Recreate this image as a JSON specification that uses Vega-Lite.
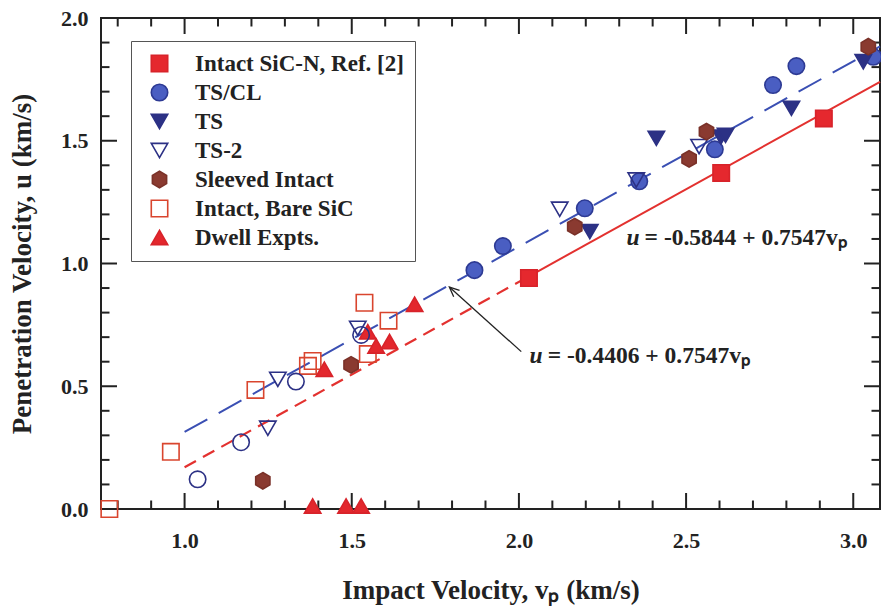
{
  "$schema": "https://vega.github.io/schema/vega-lite/v6.json",
  "width": 779,
  "height": 491,
  "autosize": {"type": "none"},
  "padding": {"left": 101, "top": 18, "right": 1, "bottom": 100},
  "background": "white",
  "datasets": {
    "pts": [
      {"series": "Intact SiC-N, Ref. [2]", "v": 2.03, "u": 0.941},
      {"series": "Intact SiC-N, Ref. [2]", "v": 2.605, "u": 1.369},
      {"series": "Intact SiC-N, Ref. [2]", "v": 2.912, "u": 1.591},
      {"series": "TS/CL", "v": 1.867, "u": 0.973},
      {"series": "TS/CL", "v": 1.952, "u": 1.071},
      {"series": "TS/CL", "v": 2.197, "u": 1.225},
      {"series": "TS/CL", "v": 2.36, "u": 1.335},
      {"series": "TS/CL", "v": 2.586, "u": 1.465},
      {"series": "TS/CL", "v": 2.76, "u": 1.727},
      {"series": "TS/CL", "v": 2.83, "u": 1.804},
      {"series": "TS/CL", "v": 3.06, "u": 1.842},
      {"series": "TS", "v": 2.212, "u": 1.13},
      {"series": "TS", "v": 2.411, "u": 1.51},
      {"series": "TS", "v": 2.604, "u": 1.515},
      {"series": "TS", "v": 2.618, "u": 1.522},
      {"series": "TS", "v": 2.815, "u": 1.632},
      {"series": "TS", "v": 3.03, "u": 1.822},
      {"series": "TS-2", "v": 1.249, "u": 0.329},
      {"series": "TS-2", "v": 1.279, "u": 0.528},
      {"series": "TS-2", "v": 1.518, "u": 0.736},
      {"series": "TS-2", "v": 2.122, "u": 1.221},
      {"series": "TS-2", "v": 2.351, "u": 1.34},
      {"series": "TS-2", "v": 2.539, "u": 1.476},
      {"series": "Sleeved Intact", "v": 1.234, "u": 0.115},
      {"series": "Sleeved Intact", "v": 1.498, "u": 0.587},
      {"series": "Sleeved Intact", "v": 2.167, "u": 1.15},
      {"series": "Sleeved Intact", "v": 2.509, "u": 1.426},
      {"series": "Sleeved Intact", "v": 2.561, "u": 1.537},
      {"series": "Sleeved Intact", "v": 3.045, "u": 1.883},
      {"series": "Intact, Bare SiC", "v": 0.775, "u": 0.0},
      {"series": "Intact, Bare SiC", "v": 0.959, "u": 0.233},
      {"series": "Intact, Bare SiC", "v": 1.212, "u": 0.485},
      {"series": "Intact, Bare SiC", "v": 1.369, "u": 0.583},
      {"series": "Intact, Bare SiC", "v": 1.383, "u": 0.603},
      {"series": "Intact, Bare SiC", "v": 1.538, "u": 0.84},
      {"series": "Intact, Bare SiC", "v": 1.548, "u": 0.631},
      {"series": "Intact, Bare SiC", "v": 1.61, "u": 0.767},
      {"series": "Dwell Expts.", "v": 1.383, "u": 0.012},
      {"series": "Dwell Expts.", "v": 1.483, "u": 0.012},
      {"series": "Dwell Expts.", "v": 1.528, "u": 0.012},
      {"series": "Dwell Expts.", "v": 1.418, "u": 0.569},
      {"series": "Dwell Expts.", "v": 1.548, "u": 0.722},
      {"series": "Dwell Expts.", "v": 1.573, "u": 0.664},
      {"series": "Dwell Expts.", "v": 1.613, "u": 0.682},
      {"series": "Dwell Expts.", "v": 1.688, "u": 0.834},
      {"series": "TS/CL open", "v": 1.039, "u": 0.121},
      {"series": "TS/CL open", "v": 1.169, "u": 0.272},
      {"series": "TS/CL open", "v": 1.333, "u": 0.519},
      {"series": "TS/CL open", "v": 1.528, "u": 0.709}
    ],
    "fits": [
      {"part": "blue", "x1": 1.0, "y1": 0.314, "x2": 3.08, "y2": 1.884},
      {"part": "reddash", "x1": 1.0, "y1": 0.170, "x2": 2.03, "y2": 0.948},
      {"part": "redsolid", "x1": 2.03, "y1": 0.948, "x2": 3.08, "y2": 1.740}
    ],
    "arrow": [{"x1": 2.007, "y1": 0.641, "x2": 1.792, "y2": 0.904}],
    "eqs": [
      {"x": 2.37, "y": 1.075, "eq": "= -0.5844 + 0.7547vₚ"},
      {"x": 2.08, "y": 0.595, "eq": "= -0.4406 + 0.7547vₚ"}
    ],
    "xt": [
      {"t": 0.8, "k": "minor"}, {"t": 0.9, "k": "minor"}, {"t": 1.0, "k": "major"}, {"t": 1.1, "k": "minor"},
      {"t": 1.2, "k": "minor"}, {"t": 1.3, "k": "minor"}, {"t": 1.4, "k": "minor"}, {"t": 1.5, "k": "major"},
      {"t": 1.6, "k": "minor"}, {"t": 1.7, "k": "minor"}, {"t": 1.8, "k": "minor"}, {"t": 1.9, "k": "minor"},
      {"t": 2.0, "k": "major"}, {"t": 2.1, "k": "minor"}, {"t": 2.2, "k": "minor"}, {"t": 2.3, "k": "minor"},
      {"t": 2.4, "k": "minor"}, {"t": 2.5, "k": "major"}, {"t": 2.6, "k": "minor"}, {"t": 2.7, "k": "minor"},
      {"t": 2.8, "k": "minor"}, {"t": 2.9, "k": "minor"}, {"t": 3.0, "k": "major"}
    ],
    "yt": [
      {"t": 0.0, "k": "major"}, {"t": 0.1, "k": "minor"}, {"t": 0.2, "k": "minor"}, {"t": 0.3, "k": "minor"},
      {"t": 0.4, "k": "minor"}, {"t": 0.5, "k": "major"}, {"t": 0.6, "k": "minor"}, {"t": 0.7, "k": "minor"},
      {"t": 0.8, "k": "minor"}, {"t": 0.9, "k": "minor"}, {"t": 1.0, "k": "major"}, {"t": 1.1, "k": "minor"},
      {"t": 1.2, "k": "minor"}, {"t": 1.3, "k": "minor"}, {"t": 1.4, "k": "minor"}, {"t": 1.5, "k": "major"},
      {"t": 1.6, "k": "minor"}, {"t": 1.7, "k": "minor"}, {"t": 1.8, "k": "minor"}, {"t": 1.9, "k": "minor"},
      {"t": 2.0, "k": "major"}
    ]
  },
  "layer": [
    {
      "data": {"name": "xt"},
      "mark": {"type": "tick", "orient": "vertical", "thickness": 2, "color": "#222", "opacity": 1, "clip": true},
      "encoding": {
        "x": {"field": "t", "type": "quantitative", "scale": {"domain": [0.75, 3.08], "nice": false, "zero": false},
          "axis": {"orient": "bottom", "values": [1.0, 1.5, 2.0, 2.5, 3.0], "format": ".1f", "ticks": false, "domain": false, "grid": false,
            "labelOverlap": false, "labelFlush": false, "labelPadding": 21,
            "title": "Impact Velocity, vₚ (km/s)", "titlePadding": 26}},
        "y": {"datum": 0, "type": "quantitative", "scale": {"domain": [0, 2], "nice": false, "zero": false},
          "axis": {"orient": "left", "values": [0, 0.5, 1.0, 1.5, 2.0], "format": ".1f", "ticks": false, "domain": false, "grid": false,
            "labelOverlap": false, "labelFlush": false, "labelPadding": 13,
            "title": "Penetration Velocity, u (km/s)", "titlePadding": 24}},
        "size": {"field": "k", "type": "nominal", "scale": {"domain": ["major", "minor"], "range": [32, 17]}, "legend": null}
      }
    },
    {
      "data": {"name": "xt"},
      "mark": {"type": "tick", "orient": "vertical", "thickness": 2, "color": "#222", "opacity": 1, "clip": true},
      "encoding": {
        "x": {"field": "t", "type": "quantitative"},
        "y": {"datum": 2, "type": "quantitative"},
        "size": {"field": "k", "type": "nominal", "legend": null}
      }
    },
    {
      "data": {"name": "yt"},
      "mark": {"type": "tick", "orient": "horizontal", "thickness": 2, "color": "#222", "opacity": 1, "clip": true},
      "encoding": {
        "y": {"field": "t", "type": "quantitative"},
        "x": {"datum": 0.75, "type": "quantitative"},
        "size": {"field": "k", "type": "nominal", "legend": null}
      }
    },
    {
      "data": {"name": "yt"},
      "mark": {"type": "tick", "orient": "horizontal", "thickness": 2, "color": "#222", "opacity": 1, "clip": true},
      "encoding": {
        "y": {"field": "t", "type": "quantitative"},
        "x": {"datum": 3.08, "type": "quantitative"},
        "size": {"field": "k", "type": "nominal", "legend": null}
      }
    },
    {
      "data": {"name": "fits"},
      "transform": [{"filter": "datum.part == 'blue'"}],
      "mark": {"type": "rule", "color": "#3a4fb3", "strokeWidth": 2, "strokeDash": [26, 13]},
      "encoding": {
        "x": {"field": "x1", "type": "quantitative"},
        "y": {"field": "y1", "type": "quantitative"},
        "x2": {"field": "x2"},
        "y2": {"field": "y2"}
      }
    },
    {
      "data": {"name": "fits"},
      "transform": [{"filter": "datum.part == 'reddash'"}],
      "mark": {"type": "rule", "color": "#e3312f", "strokeWidth": 2.2, "strokeDash": [13, 8]},
      "encoding": {
        "x": {"field": "x1", "type": "quantitative"},
        "y": {"field": "y1", "type": "quantitative"},
        "x2": {"field": "x2"},
        "y2": {"field": "y2"}
      }
    },
    {
      "data": {"name": "fits"},
      "transform": [{"filter": "datum.part == 'redsolid'"}],
      "mark": {"type": "rule", "color": "#e3312f", "strokeWidth": 2},
      "encoding": {
        "x": {"field": "x1", "type": "quantitative"},
        "y": {"field": "y1", "type": "quantitative"},
        "x2": {"field": "x2"},
        "y2": {"field": "y2"}
      }
    },
    {
      "data": {"name": "arrow"},
      "mark": {"type": "rule", "color": "#222", "strokeWidth": 1.3},
      "encoding": {
        "x": {"field": "x1", "type": "quantitative"},
        "y": {"field": "y1", "type": "quantitative"},
        "x2": {"field": "x2"},
        "y2": {"field": "y2"}
      }
    },
    {
      "data": {"name": "arrow"},
      "mark": {"type": "point", "shape": "M-0.45,1L0,0L0.45,1", "filled": false, "stroke": "#222", "strokeWidth": 1.3, "opacity": 1, "size": 380, "angle": 312},
      "encoding": {
        "x": {"field": "x2", "type": "quantitative"},
        "y": {"field": "y2", "type": "quantitative"}
      }
    },
    {
      "data": {"name": "eqs"},
      "mark": {"type": "text", "align": "left", "baseline": "alphabetic", "font": "Liberation Serif", "fontWeight": "bold", "fontSize": 23.5, "color": "#222", "dx": 2},
      "encoding": {
        "x": {"field": "x", "type": "quantitative"},
        "y": {"field": "y", "type": "quantitative"},
        "text": {"field": "eq"}
      }
    },
    {
      "data": {"name": "eqs"},
      "mark": {"type": "text", "align": "right", "baseline": "alphabetic", "font": "Liberation Serif", "fontWeight": "bold", "fontStyle": "italic", "fontSize": 23.5, "color": "#222", "dx": -3},
      "encoding": {
        "x": {"field": "x", "type": "quantitative"},
        "y": {"field": "y", "type": "quantitative"},
        "text": {"value": "u"}
      }
    },
    {
      "data": {"name": "pts"},
      "mark": {"type": "point", "filled": true, "opacity": 1, "size": 270, "strokeWidth": 1.6},
      "encoding": {
        "x": {"field": "v", "type": "quantitative"},
        "y": {"field": "u", "type": "quantitative"},
        "shape": {"field": "series", "type": "nominal",
          "scale": {"domain": ["Intact SiC-N, Ref. [2]", "TS/CL", "TS", "TS-2", "Sleeved Intact", "Intact, Bare SiC", "Dwell Expts.", "TS/CL open"],
            "range": ["square", "circle", "triangle-down", "triangle-down", "M0,-1L0.866,-0.5L0.866,0.5L0,1L-0.866,0.5L-0.866,-0.5Z", "square", "triangle-up", "circle"]},
          "legend": {"orient": "none", "legendX": 30, "legendY": 23, "title": null,
            "values": ["Intact SiC-N, Ref. [2]", "TS/CL", "TS", "TS-2", "Sleeved Intact", "Intact, Bare SiC", "Dwell Expts."]}},
        "fill": {"field": "series", "type": "nominal",
          "scale": {"domain": ["Intact SiC-N, Ref. [2]", "TS/CL", "TS", "TS-2", "Sleeved Intact", "Intact, Bare SiC", "Dwell Expts.", "TS/CL open"],
            "range": ["#e5282e", "#4a5ec2", "#2c3185", "transparent", "#8a3a30", "transparent", "#e3272d", "transparent"]}},
        "stroke": {"field": "series", "type": "nominal",
          "scale": {"domain": ["Intact SiC-N, Ref. [2]", "TS/CL", "TS", "TS-2", "Sleeved Intact", "Intact, Bare SiC", "Dwell Expts.", "TS/CL open"],
            "range": ["#d8232a", "#2d3a94", "#2c3185", "#2c3185", "#7a3128", "#d9452e", "#d8232a", "#2c3185"]}}
      }
    }
  ],
  "config": {
    "view": {"stroke": "#222", "strokeWidth": 2},
    "font": "Liberation Serif",
    "axis": {
      "labelFont": "Liberation Serif", "labelFontWeight": "bold", "labelFontSize": 22, "labelColor": "#222",
      "titleFont": "Liberation Serif", "titleFontWeight": "bold", "titleFontSize": 27, "titleColor": "#222"
    },
    "legend": {
      "labelFont": "Liberation Serif", "labelFontWeight": "bold", "labelFontSize": 23, "labelColor": "#222",
      "symbolSize": 270, "symbolStrokeWidth": 1.6, "strokeColor": "#555", "fillColor": "white",
      "padding": 11, "rowPadding": 5, "symbolOffset": 6, "labelOffset": 24, "labelLimit": 400
    }
  }
}
